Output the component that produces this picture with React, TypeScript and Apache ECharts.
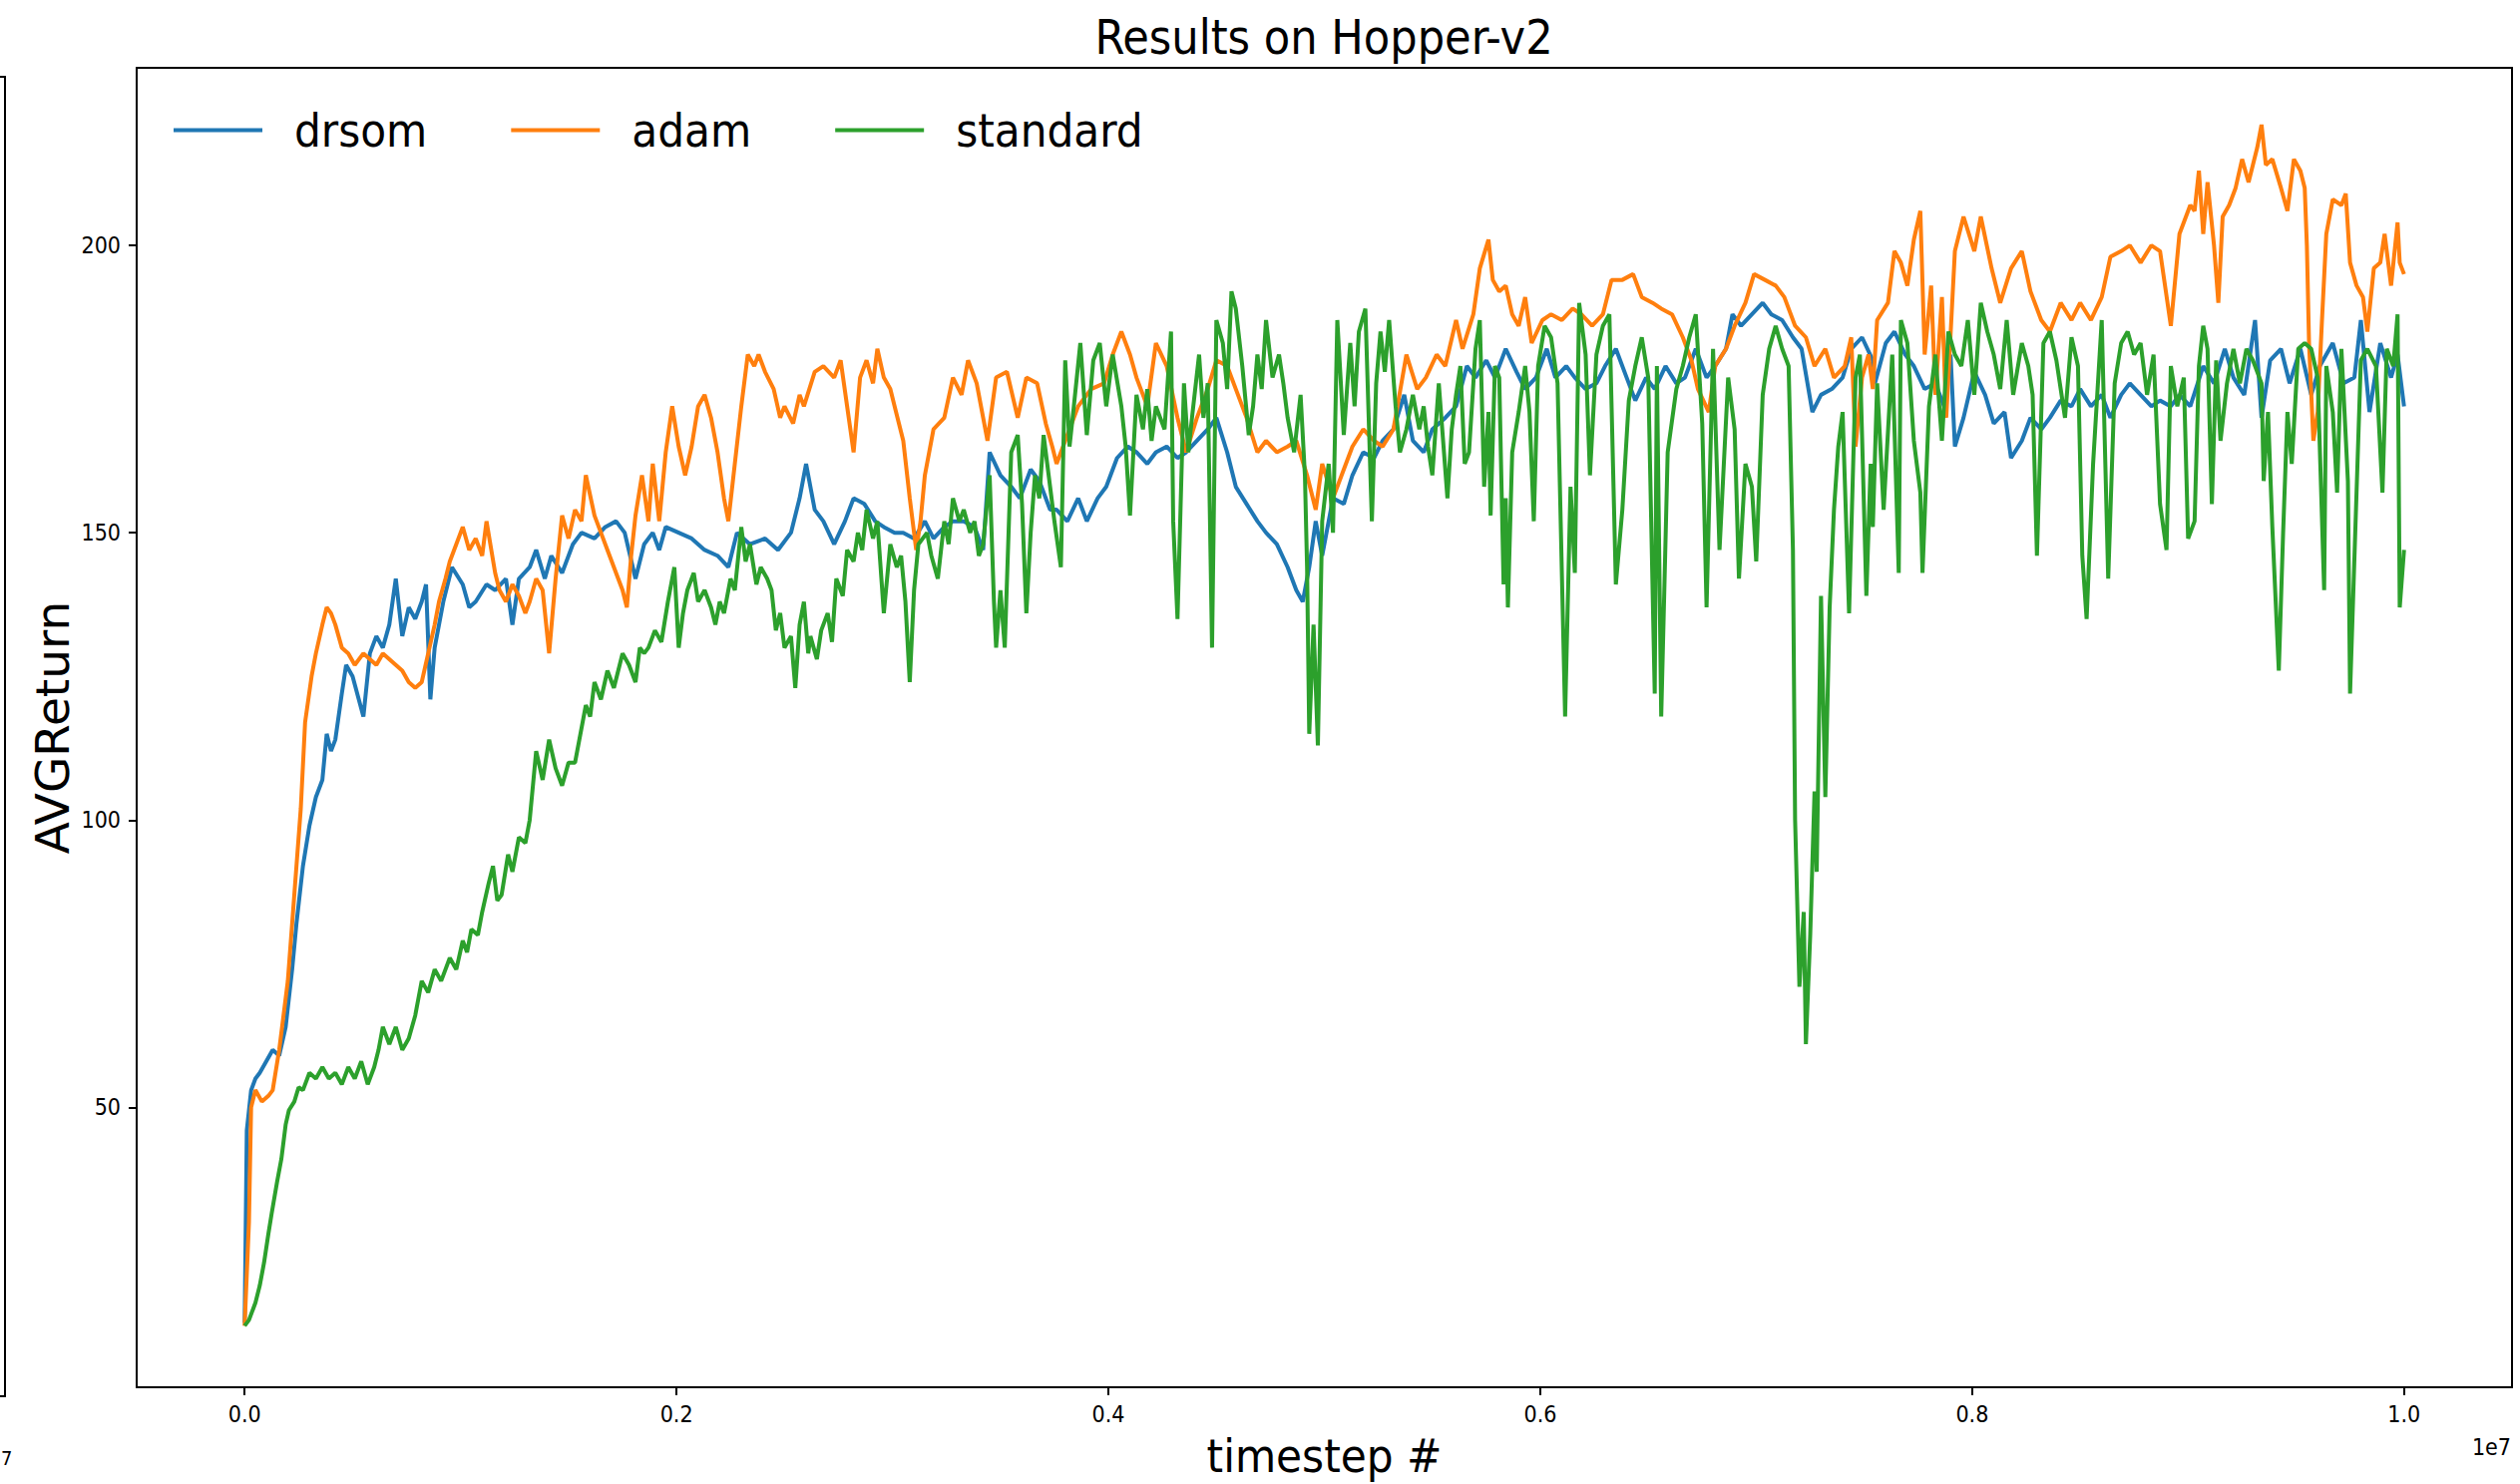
import React, { useEffect, useRef } from "react";
import * as echarts from "echarts";

// x in units of 1e7 timesteps
const xTicks = [0, 0.2, 0.4, 0.6, 0.8, 1.0];
const yTicks = [50, 100, 150, 200];
const seriesNames = ["drsom", "adam", "standard"];
const seriesColors = ["#1f77b4", "#ff7f0e", "#2ca02c"];

const drsom: [number, number][] = [
  [0, 12.5], [0.001, 46], [0.003, 53], [0.005, 55], [0.007, 56], [0.010, 58], [0.013, 60], [0.016, 59], [0.019, 64],
  [0.022, 74], [0.024, 82], [0.027, 92], [0.030, 99], [0.033, 104], [0.036, 107], [0.038, 115], [0.040, 112],
  [0.042, 114], [0.045, 122], [0.047, 127], [0.050, 125], [0.055, 118], [0.058, 129], [0.061, 132], [0.064, 130],
  [0.067, 134], [0.070, 142], [0.073, 132], [0.076, 137], [0.079, 135], [0.082, 138], [0.084, 141], [0.086, 121],
  [0.088, 130], [0.092, 138], [0.096, 144], [0.101, 141], [0.104, 137], [0.107, 138], [0.112, 141], [0.116, 140],
  [0.121, 142], [0.124, 134], [0.127, 142], [0.132, 144], [0.135, 147], [0.139, 142], [0.142, 146], [0.147, 143],
  [0.152, 148], [0.156, 150], [0.162, 149], [0.167, 151], [0.172, 152], [0.176, 150], [0.181, 142], [0.185, 148],
  [0.189, 150], [0.192, 147], [0.195, 151], [0.201, 150], [0.207, 149], [0.213, 147], [0.219, 146], [0.224, 144],
  [0.228, 150], [0.234, 148], [0.241, 149], [0.247, 147], [0.253, 150], [0.257, 156], [0.260, 162], [0.264, 154],
  [0.268, 152], [0.273, 148], [0.278, 152], [0.282, 156], [0.287, 155], [0.292, 152], [0.296, 151], [0.301, 150],
  [0.305, 150], [0.310, 149], [0.315, 152], [0.319, 149], [0.324, 151], [0.328, 152], [0.333, 152], [0.338, 151],
  [0.342, 147], [0.345, 164], [0.350, 160], [0.355, 158], [0.359, 156], [0.364, 161], [0.368, 159], [0.373, 154],
  [0.376, 154], [0.381, 152], [0.386, 156], [0.390, 152], [0.395, 156], [0.399, 158], [0.404, 163], [0.409, 165],
  [0.413, 164], [0.418, 162], [0.422, 164], [0.427, 165], [0.432, 163], [0.436, 164], [0.441, 166], [0.446, 168],
  [0.450, 170], [0.455, 164], [0.459, 158], [0.464, 155], [0.469, 152], [0.473, 150], [0.478, 148], [0.483, 144],
  [0.487, 140], [0.490, 138], [0.493, 144], [0.496, 152], [0.499, 146], [0.504, 156], [0.509, 155], [0.513, 160],
  [0.518, 164], [0.523, 163], [0.527, 166], [0.532, 168], [0.537, 174], [0.541, 166], [0.546, 164], [0.550, 168],
  [0.556, 170], [0.561, 172], [0.566, 179], [0.570, 177], [0.575, 180], [0.579, 177], [0.584, 182], [0.589, 178],
  [0.593, 175], [0.598, 177], [0.603, 182], [0.607, 177], [0.612, 179], [0.616, 177], [0.621, 175], [0.626, 176],
  [0.630, 179], [0.635, 182], [0.640, 177], [0.644, 173], [0.649, 177], [0.653, 175], [0.658, 179], [0.663, 176],
  [0.667, 177], [0.672, 182], [0.677, 177], [0.681, 179], [0.686, 182], [0.689, 188], [0.693, 186], [0.698, 188],
  [0.703, 190], [0.707, 188], [0.712, 187], [0.717, 184], [0.721, 182], [0.726, 171], [0.730, 174], [0.735, 175],
  [0.740, 177], [0.744, 182], [0.749, 184], [0.754, 180], [0.755, 176], [0.760, 183], [0.764, 185], [0.769, 181],
  [0.773, 179], [0.778, 175], [0.783, 176], [0.787, 172], [0.790, 181], [0.792, 165], [0.796, 170], [0.801, 178],
  [0.806, 174], [0.810, 169], [0.815, 171], [0.818, 163], [0.823, 166], [0.827, 170], [0.832, 168], [0.836, 170],
  [0.841, 173], [0.846, 172], [0.850, 175], [0.855, 172], [0.860, 174], [0.864, 170], [0.869, 174], [0.873, 176],
  [0.878, 174], [0.883, 172], [0.887, 173], [0.892, 172], [0.896, 174], [0.901, 172], [0.907, 179], [0.912, 176],
  [0.917, 182], [0.921, 177], [0.926, 174], [0.931, 187], [0.934, 170], [0.938, 180], [0.943, 182], [0.947, 176],
  [0.952, 182], [0.957, 174], [0.961, 179], [0.967, 183], [0.972, 176], [0.977, 177], [0.980, 187], [0.984, 171],
  [0.989, 183], [0.994, 177], [0.997, 181], [1.0, 172],
];

const adam: [number, number][] = [
  [0, 12], [0.002, 30], [0.003, 50], [0.005, 53], [0.008, 51], [0.011, 52], [0.013, 53], [0.016, 60], [0.018, 66],
  [0.020, 72], [0.023, 87], [0.026, 102], [0.028, 117], [0.031, 125], [0.033, 129], [0.036, 134], [0.038, 137],
  [0.040, 136], [0.042, 134], [0.045, 130], [0.048, 129], [0.051, 127], [0.055, 129], [0.058, 128], [0.061, 127],
  [0.064, 129], [0.067, 128], [0.070, 127], [0.073, 126], [0.076, 124], [0.079, 123], [0.082, 124], [0.085, 129],
  [0.088, 134], [0.090, 138], [0.093, 142], [0.095, 145], [0.098, 148], [0.101, 151], [0.104, 147], [0.107, 149],
  [0.110, 146], [0.112, 152], [0.116, 143], [0.118, 140], [0.121, 138], [0.124, 141], [0.127, 139], [0.130, 136],
  [0.132, 138], [0.135, 142], [0.138, 140], [0.141, 129], [0.144, 142], [0.147, 153], [0.150, 149], [0.153, 154],
  [0.156, 152], [0.158, 160], [0.162, 153], [0.165, 150], [0.168, 147], [0.170, 145], [0.173, 142], [0.175, 140],
  [0.177, 137], [0.179, 146], [0.181, 153], [0.184, 160], [0.187, 152], [0.189, 162], [0.192, 152], [0.195, 164],
  [0.198, 172], [0.201, 165], [0.204, 160], [0.207, 165], [0.210, 172], [0.213, 174], [0.216, 170], [0.219, 164],
  [0.222, 156], [0.224, 152], [0.227, 162], [0.230, 172], [0.233, 181], [0.236, 179], [0.238, 181], [0.241, 178],
  [0.245, 175], [0.248, 170], [0.250, 172], [0.254, 169], [0.257, 174], [0.259, 172], [0.264, 178], [0.268, 179],
  [0.273, 177], [0.276, 180], [0.279, 172], [0.282, 164], [0.285, 177], [0.288, 180], [0.291, 176], [0.293, 182],
  [0.296, 177], [0.299, 175], [0.301, 172], [0.305, 166], [0.308, 156], [0.311, 147], [0.313, 152], [0.315, 160],
  [0.319, 168], [0.324, 170], [0.328, 177], [0.332, 174], [0.335, 180], [0.339, 176], [0.342, 170], [0.344, 166],
  [0.348, 177], [0.353, 178], [0.358, 170], [0.362, 177], [0.367, 176], [0.371, 169], [0.374, 165], [0.376, 162],
  [0.381, 167], [0.386, 172], [0.392, 175], [0.398, 176], [0.402, 181], [0.406, 185], [0.410, 181], [0.413, 177],
  [0.418, 172], [0.422, 183], [0.427, 179], [0.432, 170], [0.436, 164], [0.441, 170], [0.446, 175], [0.450, 180],
  [0.455, 179], [0.459, 175], [0.464, 170], [0.469, 164], [0.473, 166], [0.478, 164], [0.483, 165], [0.487, 166],
  [0.492, 160], [0.496, 154], [0.499, 162], [0.504, 156], [0.509, 161], [0.513, 165], [0.518, 168], [0.523, 166],
  [0.527, 165], [0.532, 168], [0.538, 181], [0.543, 175], [0.547, 177], [0.552, 181], [0.556, 179], [0.561, 187],
  [0.564, 182], [0.569, 188], [0.572, 196], [0.576, 201], [0.578, 194], [0.581, 192], [0.584, 193], [0.587, 188],
  [0.590, 186], [0.593, 191], [0.596, 183], [0.601, 187], [0.605, 188], [0.610, 187], [0.615, 189], [0.619, 188],
  [0.624, 186], [0.629, 188], [0.633, 194], [0.638, 194], [0.643, 195], [0.647, 191], [0.652, 190], [0.656, 189],
  [0.661, 188], [0.666, 184], [0.670, 180], [0.673, 175], [0.678, 171], [0.681, 179], [0.686, 182], [0.690, 186],
  [0.695, 190], [0.699, 195], [0.704, 194], [0.709, 193], [0.713, 191], [0.718, 186], [0.723, 184], [0.727, 179],
  [0.732, 182], [0.736, 177], [0.741, 179], [0.744, 184], [0.746, 165], [0.749, 177], [0.752, 181], [0.754, 175],
  [0.756, 187], [0.761, 190], [0.764, 199], [0.767, 197], [0.770, 193], [0.773, 201], [0.776, 206], [0.778, 181],
  [0.781, 193], [0.783, 174], [0.786, 191], [0.788, 170], [0.792, 199], [0.796, 205], [0.801, 199], [0.804, 205],
  [0.809, 196], [0.813, 190], [0.818, 196], [0.823, 199], [0.827, 192], [0.832, 187], [0.836, 185], [0.841, 190],
  [0.846, 187], [0.850, 190], [0.855, 187], [0.860, 191], [0.864, 198], [0.869, 199], [0.873, 200], [0.878, 197],
  [0.883, 200], [0.887, 199], [0.892, 186], [0.896, 202], [0.901, 207], [0.903, 206], [0.905, 213], [0.907, 202],
  [0.909, 211], [0.912, 200], [0.914, 190], [0.916, 205], [0.919, 207], [0.922, 210], [0.925, 215], [0.928, 211],
  [0.932, 217], [0.934, 221], [0.936, 214], [0.939, 215], [0.943, 210], [0.946, 206], [0.949, 215], [0.952, 213],
  [0.954, 210], [0.955, 200], [0.956, 183], [0.958, 166], [0.960, 171], [0.962, 187], [0.964, 202], [0.967, 208],
  [0.971, 207], [0.973, 209], [0.975, 197], [0.978, 193], [0.981, 191], [0.983, 185], [0.986, 196], [0.989, 197],
  [0.991, 202], [0.994, 193], [0.997, 204], [0.998, 197], [1.0, 195],
];

const standard: [number, number][] = [
  [0, 12], [0.002, 13], [0.005, 16], [0.007, 19], [0.009, 23], [0.011, 28], [0.0125, 31.5], [0.015, 37], [0.017, 41],
  [0.019, 47], [0.0205, 49.5], [0.023, 51], [0.025, 53.5], [0.027, 53], [0.030, 56], [0.033, 55], [0.036, 57],
  [0.039, 55], [0.042, 56], [0.045, 54], [0.048, 57], [0.051, 55], [0.054, 58], [0.057, 54], [0.060, 57], [0.062, 60],
  [0.064, 64], [0.067, 61], [0.070, 64], [0.073, 60], [0.076, 62], [0.079, 66], [0.082, 72], [0.085, 70], [0.088, 74],
  [0.091, 72], [0.095, 76], [0.098, 74], [0.101, 79], [0.103, 77], [0.105, 81], [0.108, 80], [0.110, 84], [0.113, 89],
  [0.115, 92], [0.117, 86], [0.119, 87], [0.122, 94], [0.124, 91], [0.127, 97], [0.130, 96], [0.132, 100], [0.135, 112],
  [0.138, 107], [0.141, 114], [0.144, 109], [0.147, 106], [0.150, 110], [0.153, 110], [0.156, 116], [0.158, 120],
  [0.160, 118], [0.162, 124], [0.165, 121], [0.168, 126], [0.171, 123], [0.175, 129], [0.178, 127], [0.181, 124],
  [0.183, 130], [0.185, 129], [0.187, 130], [0.190, 133], [0.193, 131], [0.196, 138], [0.199, 144], [0.201, 130],
  [0.203, 136], [0.205, 140], [0.208, 143], [0.210, 138], [0.213, 140], [0.216, 137], [0.218, 134], [0.220, 138],
  [0.222, 136], [0.225, 142], [0.227, 140], [0.230, 151], [0.232, 145], [0.234, 148], [0.237, 141], [0.239, 144],
  [0.242, 142], [0.244, 140], [0.246, 133], [0.248, 136], [0.250, 130], [0.253, 132], [0.255, 123], [0.257, 134],
  [0.259, 138], [0.261, 129], [0.262, 132], [0.265, 128], [0.267, 133], [0.270, 136], [0.272, 131], [0.274, 142],
  [0.277, 139], [0.279, 147], [0.282, 145], [0.284, 150], [0.286, 147], [0.288, 154], [0.291, 149], [0.293, 152],
  [0.296, 136], [0.299, 148], [0.302, 144], [0.304, 146], [0.306, 138], [0.308, 124], [0.310, 140], [0.312, 148],
  [0.316, 150], [0.318, 146], [0.321, 142], [0.324, 152], [0.326, 148], [0.328, 156], [0.331, 152], [0.333, 154],
  [0.336, 150], [0.338, 152], [0.340, 146], [0.342, 148], [0.345, 160], [0.347, 138], [0.348, 130], [0.350, 140],
  [0.352, 130], [0.355, 164], [0.358, 167], [0.360, 155], [0.362, 136], [0.364, 150], [0.366, 160], [0.368, 156],
  [0.370, 167], [0.373, 158], [0.375, 152], [0.378, 144], [0.380, 180], [0.382, 165], [0.384, 172], [0.387, 183],
  [0.390, 167], [0.393, 180], [0.396, 183], [0.399, 172], [0.402, 181], [0.406, 172], [0.408, 165], [0.410, 153],
  [0.413, 174], [0.416, 168], [0.418, 175], [0.420, 166], [0.422, 172], [0.426, 168], [0.429, 185], [0.430, 152],
  [0.432, 135], [0.435, 176], [0.437, 164], [0.439, 171], [0.442, 181], [0.444, 170], [0.446, 176], [0.448, 130],
  [0.450, 187], [0.453, 183], [0.455, 175], [0.457, 192], [0.459, 189], [0.462, 179], [0.465, 167], [0.467, 172],
  [0.469, 181], [0.471, 175], [0.473, 187], [0.476, 177], [0.479, 181], [0.481, 176], [0.483, 170], [0.486, 164],
  [0.489, 174], [0.491, 160], [0.492, 144], [0.493, 115], [0.495, 134], [0.497, 113], [0.499, 152], [0.502, 162],
  [0.504, 150], [0.506, 187], [0.509, 167], [0.512, 183], [0.514, 172], [0.516, 185], [0.519, 189], [0.522, 152],
  [0.524, 176], [0.526, 185], [0.528, 178], [0.530, 187], [0.533, 172], [0.535, 164], [0.538, 168], [0.541, 174],
  [0.544, 168], [0.546, 172], [0.548, 165], [0.550, 160], [0.553, 176], [0.557, 156], [0.559, 168], [0.561, 174],
  [0.563, 179], [0.565, 162], [0.567, 164], [0.570, 182], [0.572, 187], [0.574, 158], [0.576, 171], [0.577, 153],
  [0.579, 179], [0.581, 177], [0.583, 141], [0.584, 156], [0.585, 137], [0.587, 164], [0.590, 171], [0.593, 179],
  [0.595, 171], [0.597, 152], [0.599, 179], [0.602, 186], [0.605, 184], [0.608, 176], [0.6115, 118], [0.614, 158],
  [0.616, 143], [0.618, 190], [0.621, 181], [0.623, 160], [0.626, 181], [0.629, 186], [0.632, 188], [0.635, 141],
  [0.638, 154], [0.641, 173], [0.644, 179], [0.647, 184], [0.650, 177], [0.653, 122], [0.654, 179], [0.656, 118],
  [0.659, 164], [0.663, 175], [0.666, 179], [0.669, 184], [0.672, 188], [0.675, 169], [0.677, 137], [0.680, 182],
  [0.683, 147], [0.687, 177], [0.690, 168], [0.692, 142], [0.695, 162], [0.698, 158], [0.700, 145], [0.703, 174],
  [0.706, 182], [0.709, 186], [0.712, 182], [0.715, 179], [0.717, 147], [0.718, 100], [0.720, 71], [0.722, 84],
  [0.723, 61], [0.725, 80], [0.727, 105], [0.728, 91], [0.730, 139], [0.732, 104], [0.734, 137], [0.736, 154],
  [0.738, 165], [0.740, 171], [0.743, 136], [0.746, 177], [0.748, 181], [0.751, 139], [0.753, 162], [0.754, 151],
  [0.756, 176], [0.759, 154], [0.763, 181], [0.766, 143], [0.767, 187], [0.770, 183], [0.773, 166], [0.776, 157],
  [0.777, 143], [0.780, 172], [0.783, 181], [0.786, 166], [0.789, 185], [0.792, 181], [0.795, 179], [0.798, 187],
  [0.801, 174], [0.804, 190], [0.807, 185], [0.810, 181], [0.813, 175], [0.816, 187], [0.819, 174], [0.823, 183],
  [0.826, 179], [0.828, 174], [0.830, 146], [0.833, 183], [0.836, 185], [0.839, 180], [0.843, 170], [0.846, 184],
  [0.849, 179], [0.851, 146], [0.853, 135], [0.856, 162], [0.860, 187], [0.863, 142], [0.866, 176], [0.869, 183],
  [0.872, 185], [0.875, 181], [0.878, 183], [0.881, 174], [0.884, 181], [0.887, 155], [0.890, 147], [0.892, 179],
  [0.895, 172], [0.898, 177], [0.900, 149], [0.903, 152], [0.905, 179], [0.907, 186], [0.909, 182], [0.911, 155],
  [0.913, 180], [0.915, 166], [0.918, 176], [0.921, 182], [0.924, 176], [0.927, 182], [0.930, 180], [0.934, 176],
  [0.935, 159], [0.937, 171], [0.939, 151], [0.942, 126], [0.944, 150], [0.946, 171], [0.948, 162], [0.951, 182],
  [0.954, 183], [0.957, 182], [0.960, 177], [0.963, 140], [0.964, 179], [0.967, 171], [0.969, 157], [0.971, 182],
  [0.974, 159], [0.975, 122], [0.978, 157], [0.980, 180], [0.983, 182], [0.987, 179], [0.990, 157], [0.992, 182],
  [0.995, 179], [0.997, 188], [0.998, 137], [1.0, 147],
];

const seriesData = [drsom, adam, standard];

const FONT_C = "'DejaVu Sans Condensed', 'DejaVu Sans', sans-serif";
const FONT = "'DejaVu Sans', sans-serif";

export default function App() {
  const ref = useRef<HTMLDivElement>(null);
  useEffect(() => {
    if (!ref.current) return;
    const chart = echarts.init(ref.current, undefined, { renderer: "svg" });
    const axisLine = { show: true, onZero: false, lineStyle: { color: "#000", width: 2 } };
    chart.setOption({
      animation: false,
      backgroundColor: "#ffffff",
      grid: {
        left: 137, right: 8, top: 68, bottom: 97,
        show: true, borderColor: "#000", borderWidth: 2, backgroundColor: "transparent",
      },
      legend: {
        data: seriesNames,
        left: 169, top: 102,
        icon: "rect", itemWidth: 89, itemHeight: 4, itemGap: 84,
        textStyle: { fontSize: 47, fontFamily: FONT_C, color: "#000", padding: [0, 0, 0, 27] },
      },
      xAxis: {
        type: "value", min: -0.05, max: 1.05,
        name: "timestep #", nameLocation: "middle", nameGap: 45, nameMoveOverlap: false,
        nameTextStyle: { fontSize: 47, fontFamily: FONT_C, color: "#000" },
        axisLine,
        axisTick: { show: true, inside: false, length: 8, lineStyle: { color: "#000", width: 2 }, customValues: xTicks },
        axisLabel: {
          customValues: xTicks, formatter: (v: number) => v.toFixed(1),
          fontSize: 23, fontFamily: FONT_C, color: "#000", margin: 15,
        },
        splitLine: { show: false },
      },
      yAxis: {
        type: "value", min: 1.3, max: 230.9,
        name: "AVGReturn", nameLocation: "middle", nameGap: 61, nameMoveOverlap: false,
        nameTextStyle: { fontSize: 47, fontFamily: FONT, color: "#000" },
        axisLine,
        axisTick: { show: true, inside: false, length: 8, lineStyle: { color: "#000", width: 2 }, customValues: yTicks },
        axisLabel: {
          customValues: yTicks, formatter: (v: number) => String(v),
          fontSize: 23, fontFamily: FONT_C, color: "#000", margin: 16,
        },
        splitLine: { show: false },
      },
      graphic: [
        {
          type: "text", x: 1327, y: 37,
          style: { text: "Results on Hopper-v2", fontSize: 48, fontFamily: FONT_C, fill: "#000", textAlign: "center", textVerticalAlign: "middle" },
        },
        {
          type: "text", x: 2517, y: 1451,
          style: { text: "1e7", fontSize: 23, fontFamily: FONT_C, fill: "#000", textAlign: "right", textVerticalAlign: "middle" },
        },
        {
          type: "polyline",
          shape: { points: [[0, 77], [5, 77], [5, 1400], [0, 1400]] },
          style: { stroke: "#000", lineWidth: 2, fill: null },
        },
        {
          type: "text", x: 1, y: 1462,
          style: { text: "7", fontSize: 20, fontFamily: FONT_C, fill: "#000", textAlign: "left", textVerticalAlign: "middle" },
        },
      ],
      series: seriesNames.map((name, i) => ({
        name,
        type: "line",
        data: seriesData[i],
        showSymbol: false,
        symbol: "none",
        color: seriesColors[i],
        lineStyle: { width: 4, color: seriesColors[i] },
        z: 2 + i,
      })),
    });
    return () => chart.dispose();
  }, []);
  return (
    <div
      ref={ref}
      style={{ position: "absolute", left: 0, top: 0, width: 2526, height: 1488, background: "#fff" }}
    />
  );
}
